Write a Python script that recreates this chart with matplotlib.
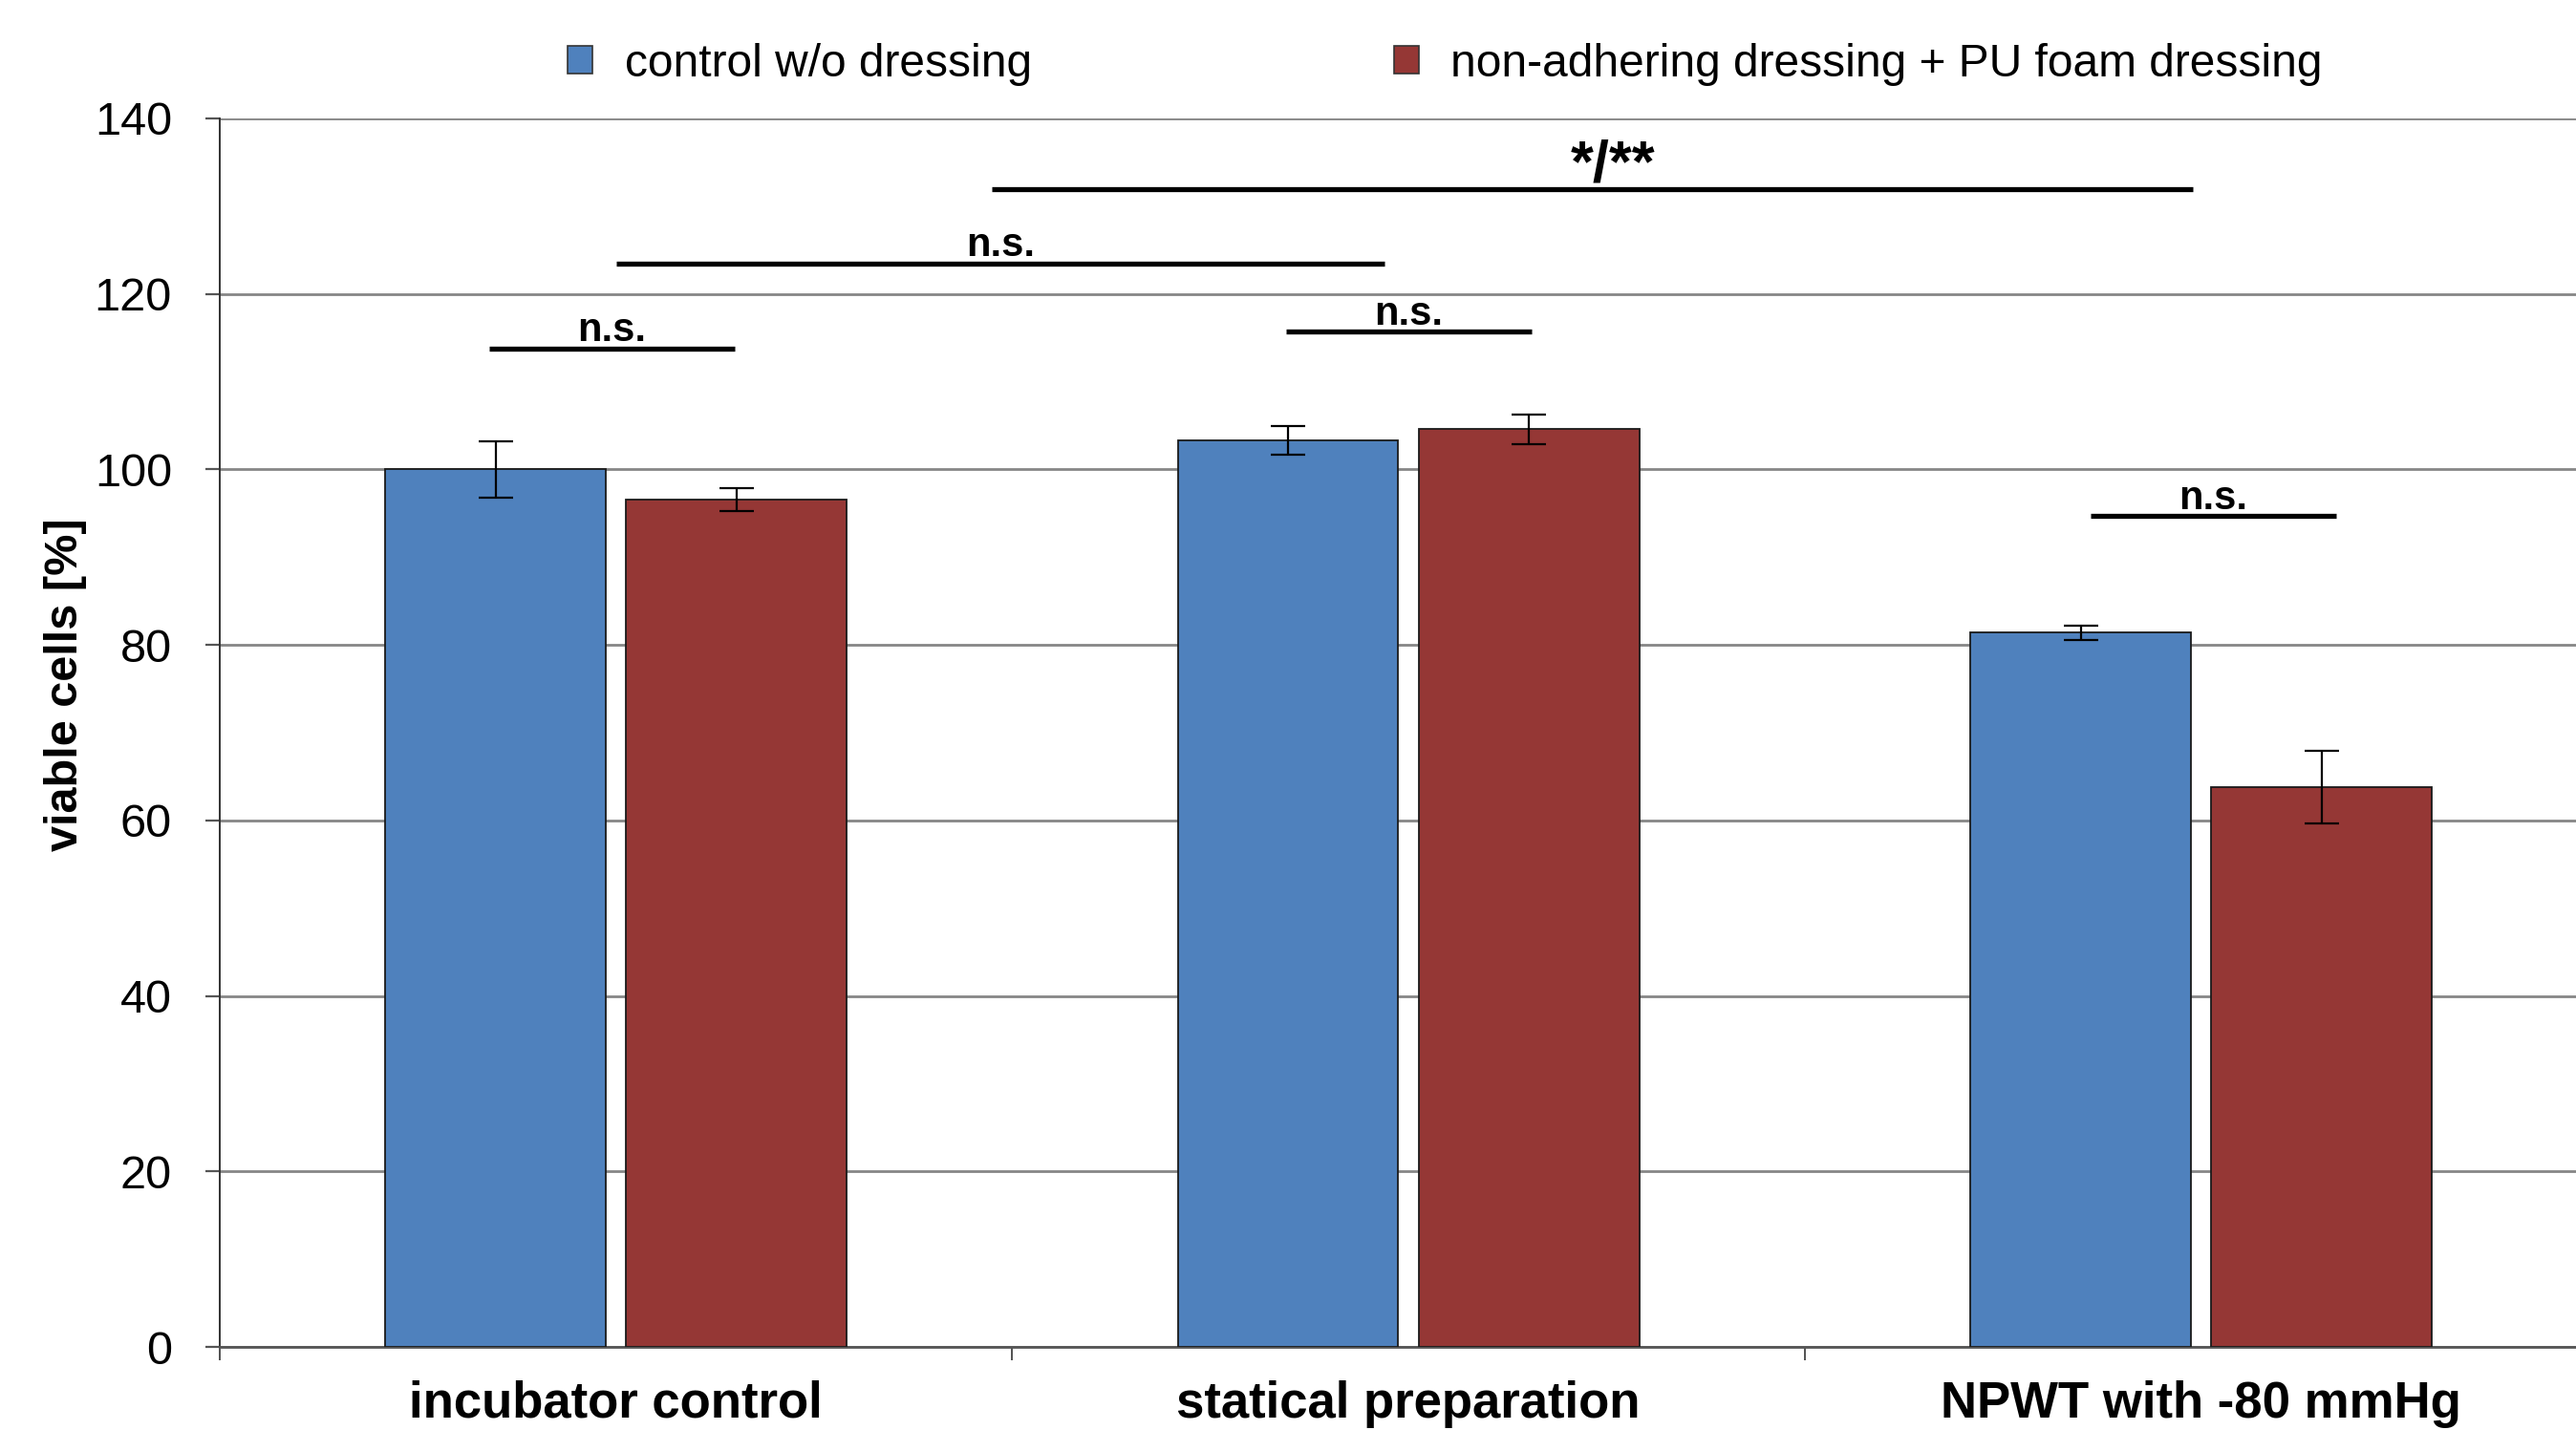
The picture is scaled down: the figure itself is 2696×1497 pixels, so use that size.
"""Viable cells bar chart with significance bars."""
import matplotlib
matplotlib.use("Agg")
import matplotlib.pyplot as plt
from matplotlib.patches import Patch
import numpy as np

plt.rcParams["font.family"] = ["Liberation Sans", "DejaVu Sans"]

# Data
categories = ["incubator control", "statical preparation", "NPWT with -80 mmHg"]
series_names = ["control w/o dressing", "non-adhering dressing + PU foam dressing"]
control_vals = [100.0, 103.3, 81.4]
control_err = [3.2, 1.6, 0.8]
dressing_vals = [96.6, 104.6, 63.8]
dressing_err = [1.3, 1.7, 4.1]

# significance bars: (x start, x end, y, label, label x)
sig_bars = [
    (-0.16, 0.15, 113.8, "n.s.", -0.005),
    (0.0, 0.97, 123.5, "n.s.", 0.485),
    (0.474, 1.99, 131.9, "*/**", 1.258),
    (0.845, 1.155, 115.7, "n.s.", 1.0),
    (1.86, 2.17, 94.7, "n.s.", 2.015),
]

blue = "#4F81BD"
red = "#953735"

fig = plt.figure(figsize=(26.96, 14.97), dpi=100)
ax = fig.add_axes([0.0853, 0.0581, 0.923, 0.8591])

x = np.arange(len(categories))
width = 0.278
offset = 0.152

err_kw = dict(ecolor="black", elinewidth=1.6, capsize=13, capthick=1.6)
ax.bar(x - offset, control_vals, width, yerr=control_err, color=blue,
       edgecolor="#1a1a1a", linewidth=1.3, error_kw=err_kw, zorder=3)
ax.bar(x + offset, dressing_vals, width, yerr=dressing_err, color=red,
       edgecolor="#1a1a1a", linewidth=1.3, error_kw=err_kw, zorder=3)

# Significance annotations
for x1, x2, y, label, lx in sig_bars:
    ax.plot([x1, x2], [y, y], color="black", linewidth=3.8,
            solid_capstyle="butt", zorder=4)
    big = label == "*/**"
    ax.text(lx, y + (-0.45 if big else -0.2), label, ha="center", va="bottom",
            fontsize=44 if big else 30, fontweight="bold", zorder=5)

# Axes styling
ax.set_xlim(-0.5, 2.5)
ax.set_ylim(0, 140)
ax.set_yticks(np.arange(0, 141, 20))
ax.yaxis.grid(True, color="#868686", linewidth=2.0, zorder=0)
ax.set_axisbelow(True)

ax.set_xticks(x)
ax.set_xticklabels(categories, fontsize=38, fontweight="bold")
ax.set_xticks([-0.5, 0.5, 1.5, 2.5], minor=True)
ax.tick_params(axis="x", which="major", length=0, pad=25)
ax.tick_params(axis="x", which="minor", length=10, width=1.2, color="#333333")
ax.tick_params(axis="y", labelsize=35, length=11, width=1.6, pad=25,
               color="#555555")

ax.set_ylabel("viable cells [%]", fontsize=35, fontweight="bold")
ax.yaxis.set_label_coords(-0.0559, 0.539)

for side in ["top", "right"]:
    ax.spines[side].set_visible(False)
ax.spines["left"].set_color("#333333")
ax.spines["left"].set_linewidth(1.4)
ax.spines["bottom"].set_color("#555555")
ax.spines["bottom"].set_linewidth(2.0)

handles = [Patch(facecolor=blue, edgecolor="#333333", linewidth=1.2),
           Patch(facecolor=red, edgecolor="#333333", linewidth=1.2)]
fig.legend(handles, series_names, loc="center", bbox_to_anchor=(0.561, 0.955),
           ncol=2, frameon=False, fontsize=34.5, handlelength=0.55,
           handleheight=0.55, handletextpad=0.7, columnspacing=7.9)

fig.savefig("out.png", dpi=100)
